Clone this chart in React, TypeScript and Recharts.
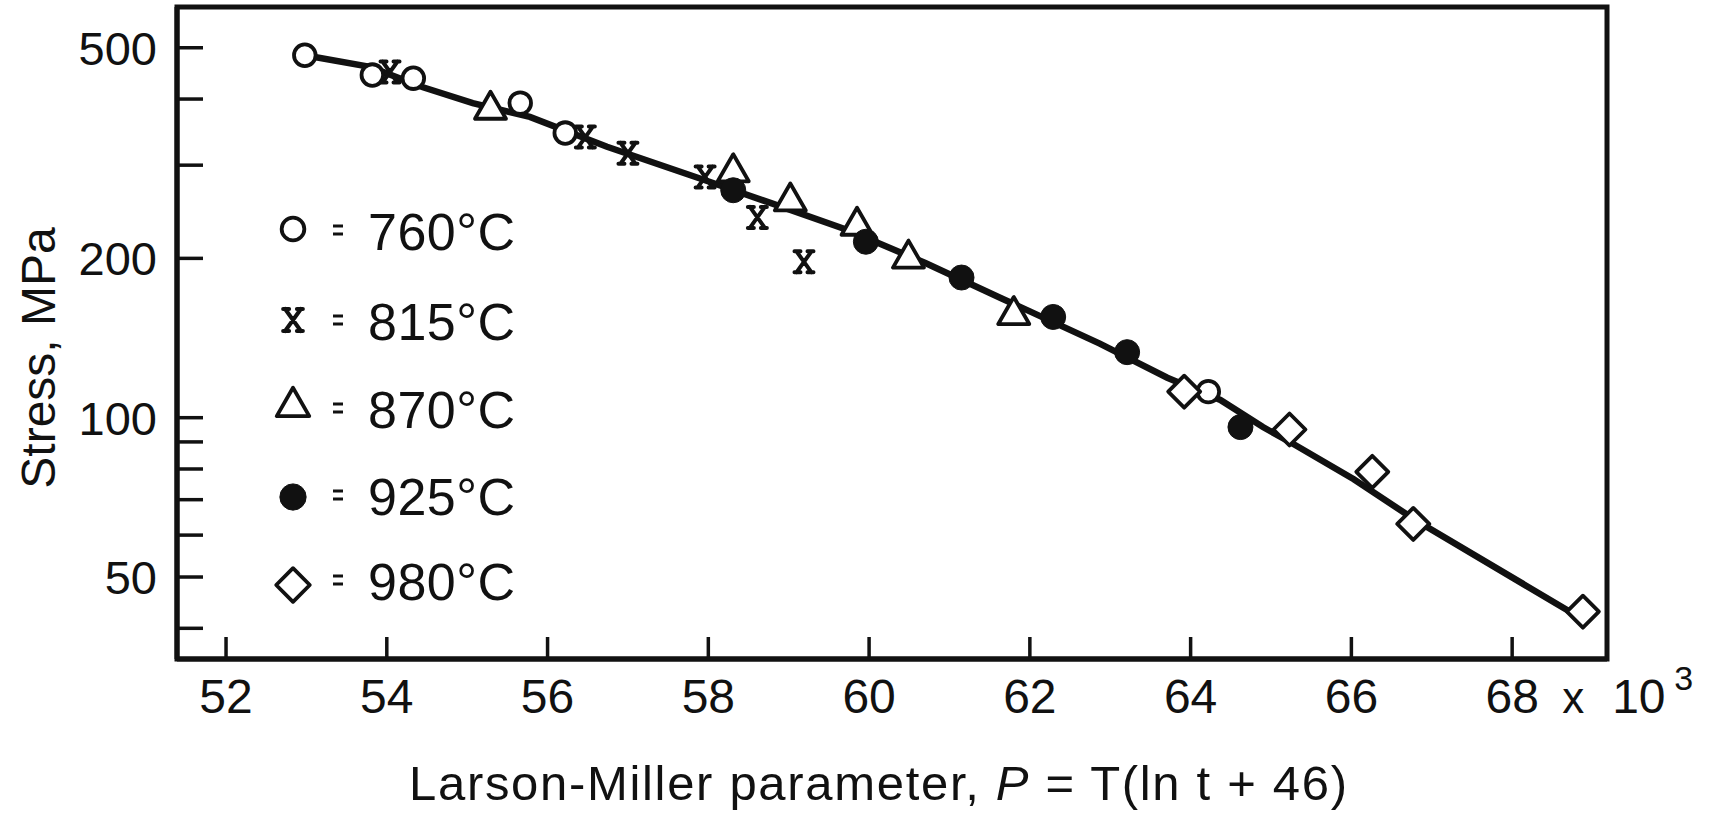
import React from 'react';
import { ComposedChart, Scatter, Line, XAxis, YAxis, Legend, ReferenceArea } from 'recharts';

// ---------- data ----------
const xTicks = [52, 54, 56, 58, 60, 62, 64, 66, 68];
const yTicks = [40, 50, 60, 70, 80, 90, 100, 200, 300, 400, 500];
const yLabeled = [50, 100, 200, 500];
const seriesNames = ['760°C', '815°C', '870°C', '925°C', '980°C'];

const s760 = [
  { P: 52.98, S: 484 },
  { P: 53.82, S: 444 },
  { P: 54.33, S: 438 },
  { P: 55.66, S: 393 },
  { P: 56.22, S: 345 },
  { P: 64.22, S: 112 },
];
const s815 = [
  { P: 54.04, S: 450 },
  { P: 56.47, S: 339 },
  { P: 57.0, S: 316 },
  { P: 57.96, S: 285 },
  { P: 58.61, S: 239 },
  { P: 59.19, S: 197 },
];
const s870 = [
  { P: 55.29, S: 386 },
  { P: 58.31, S: 294 },
  { P: 59.02, S: 259 },
  { P: 59.85, S: 233 },
  { P: 60.49, S: 202 },
  { P: 61.8, S: 158 },
];
const s925 = [
  { P: 58.31, S: 269 },
  { P: 59.96, S: 215 },
  { P: 61.15, S: 184 },
  { P: 62.29, S: 155 },
  { P: 63.21, S: 133 },
  { P: 64.62, S: 96 },
];
const s980 = [
  { P: 63.92, S: 112 },
  { P: 65.23, S: 95 },
  { P: 66.26, S: 79 },
  { P: 66.77, S: 63 },
  { P: 68.88, S: 43 },
];
const trend = [
  { P: 52.98, S: 484 },
  { P: 53.79, S: 460 },
  { P: 54.45, S: 421 },
  { P: 55.07, S: 393 },
  { P: 55.78, S: 370 },
  { P: 56.74, S: 325 },
  { P: 57.96, S: 281 },
  { P: 58.79, S: 254 },
  { P: 59.74, S: 226 },
  { P: 60.7, S: 196 },
  { P: 61.65, S: 168 },
  { P: 62.87, S: 138 },
  { P: 63.71, S: 119 },
  { P: 64.37, S: 108 },
  { P: 64.9, S: 96 },
  { P: 65.3, S: 88.8 },
  { P: 66.03, S: 76.5 },
  { P: 66.8, S: 64 },
  { P: 68.72, S: 43 },
];

// ---------- styles ----------
const FONT = "'Liberation Sans', Arial, Helvetica, sans-serif";
const INK = '#111';
const X_DOMAIN: [number, number] = [51.39, 69.18];
const Y_DOMAIN: [number, number] = [35, 597];

type Kind = 'circle' | 'cross' | 'triangle' | 'dot' | 'diamond';
const kinds: Kind[] = ['circle', 'cross', 'triangle', 'dot', 'diamond'];

function markerEl(kind: Kind, cx: number, cy: number, k = 1) {
  const sw = 3.8;
  switch (kind) {
    case 'circle':
      return <circle cx={cx} cy={cy} r={10.8 * k} fill="#fff" stroke={INK} strokeWidth={sw} />;
    case 'dot':
      return <circle cx={cx} cy={cy} r={12.5 * k} fill={INK} stroke={INK} strokeWidth={1} />;
    case 'triangle': {
      const hw = 15.5 * k;
      const up = 15.5 * k;
      const dn = 11.5 * k;
      return (
        <polygon
          points={`${cx},${cy - up} ${cx - hw},${cy + dn} ${cx + hw},${cy + dn}`}
          fill="#fff"
          stroke={INK}
          strokeWidth={sw}
          strokeLinejoin="round"
        />
      );
    }
    case 'diamond': {
      const h = 16 * k;
      return (
        <polygon
          points={`${cx},${cy - h} ${cx + h},${cy} ${cx},${cy + h} ${cx - h},${cy}`}
          fill="#fff"
          stroke={INK}
          strokeWidth={sw}
          strokeLinejoin="round"
        />
      );
    }
    case 'cross': {
      const w = 7.5 * k;
      const h = 10.5 * k;
      return (
        <path
          d={`M${cx - w},${cy - h} L${cx + w},${cy + h} M${cx + w},${cy - h} L${cx - w},${cy + h} M${cx - w - 2},${cy - h} H${cx - w + 4} M${cx + w - 4},${cy - h} H${cx + w + 2} M${cx - w - 2},${cy + h} H${cx - w + 4} M${cx + w - 4},${cy + h} H${cx + w + 2}`}
          fill="none"
          stroke={INK}
          strokeWidth={4}
          strokeLinecap="round"
        />
      );
    }
  }
  return null;
}

const makeShape = (kind: Kind) => (props: any) => {
  const { cx, cy } = props;
  if (cx == null || cy == null) return <g />;
  return markerEl(kind, cx, cy);
};

// ---------- axis ticks ----------
const XTick = (props: any) => {
  const { x, y, payload } = props;
  const v = payload.value;
  return (
    <g>
      <line x1={x} y1={y} x2={x} y2={y - 22} stroke={INK} strokeWidth={3.5} />
      <text x={x} y={y + 54} textAnchor="middle" fontFamily={FONT} fontSize={48} fill={INK}>
        {v}
      </text>
      {v === 68 ? (
        <g>
          <text x={x + 50} y={y + 54} textAnchor="start" fontFamily={FONT} fontSize={44} fill={INK}>
            x
          </text>
          <text x={x + 100} y={y + 54} textAnchor="start" fontFamily={FONT} fontSize={48} fill={INK}>
            10
          </text>
          <text x={x + 162} y={y + 31} textAnchor="start" fontFamily={FONT} fontSize={34} fill={INK}>
            3
          </text>
        </g>
      ) : null}
    </g>
  );
};

const YTick = (props: any) => {
  const { x, y, payload } = props;
  const v = payload.value;
  return (
    <g>
      <line x1={x} y1={y} x2={x + 26} y2={y} stroke={INK} strokeWidth={3.5} />
      {yLabeled.includes(v) ? (
        <text x={x - 20} y={y + 17} textAnchor="end" fontFamily={FONT} fontSize={47} fill={INK}>
          {v}
        </text>
      ) : null}
    </g>
  );
};

const XTitle = () => (
  <text x={409} y={800} fontFamily={FONT} fontSize={49} fill={INK} textLength={938} lengthAdjust="spacing">
    Larson-Miller parameter,{' '}
    <tspan fontStyle="italic">P</tspan> = T(ln t + 46)
  </text>
);

const YTitle = () => (
  <text
    x={55}
    y={358}
    transform="rotate(-90 55 358)"
    textAnchor="middle"
    fontFamily={FONT}
    fontSize={48}
    fill={INK}
  >
    Stress, MPa
  </text>
);

// ---------- legend ----------
const LEG_LEFT = 260;
const LEG_TOP = 190;
const legendSymbolY = [229, 320, 404, 497, 585];
const legendTextBase = [250, 340, 428, 515, 600];

const LegendBox = () => (
  <svg width={290} height={430} style={{ display: 'block', overflow: 'visible' }}>
    {seriesNames.map((name, i) => {
      const sy = legendSymbolY[i] - LEG_TOP;
      const tb = legendTextBase[i] - LEG_TOP;
      const sx = 293 - LEG_LEFT;
      const eqx = 338 - LEG_LEFT;
      const ey = tb - 20;
      return (
        <g key={name}>
          {markerEl(kinds[i], sx, sy, 1.05)}
          <line x1={eqx - 5} y1={ey - 4} x2={eqx + 5} y2={ey - 4} stroke={INK} strokeWidth={3} />
          <line x1={eqx - 5} y1={ey + 4} x2={eqx + 5} y2={ey + 4} stroke={INK} strokeWidth={3} />
          <text x={368 - LEG_LEFT} y={tb} fontFamily={FONT} fontSize={52} fill={INK} textLength={147} lengthAdjust="spacing">
            {name}
          </text>
        </g>
      );
    })}
  </svg>
);

export default function App() {
  return (
    <div style={{ position: 'absolute', left: 0, top: 0, width: 1713, height: 815, background: '#fff' }}>
      <ComposedChart width={1713} height={815} margin={{ top: 7, right: 106, bottom: 96, left: 0 }}>
        <XAxis
          dataKey="P"
          type="number"
          domain={X_DOMAIN}
          allowDataOverflow
          ticks={xTicks}
          interval={0}
          tickSize={0}
          tickMargin={0}
          tickLine={false}
          tick={<XTick />}
          axisLine={{ stroke: INK, strokeWidth: 5 }}
          height={60}
          label={<XTitle />}
        />
        <YAxis
          dataKey="S"
          type="number"
          scale="log"
          domain={Y_DOMAIN}
          allowDataOverflow
          ticks={yTicks}
          interval={0}
          tickSize={0}
          tickMargin={0}
          tickLine={false}
          tick={<YTick />}
          axisLine={{ stroke: INK, strokeWidth: 5 }}
          width={177}
          label={<YTitle />}
        />
        <ReferenceArea
          x1={X_DOMAIN[0]}
          x2={X_DOMAIN[1]}
          y1={Y_DOMAIN[0]}
          y2={Y_DOMAIN[1]}
          fill="none"
          fillOpacity={0}
          stroke={INK}
          strokeWidth={5}
          ifOverflow="visible"
        />
        <Line
          data={trend}
          dataKey="S"
          type="linear"
          stroke={INK}
          strokeWidth={6.5}
          dot={false}
          activeDot={false}
          legendType="none"
          isAnimationActive={false}
        />
        <Scatter name={seriesNames[0]} data={s760} dataKey="S" shape={makeShape('circle')} isAnimationActive={false} />
        <Scatter name={seriesNames[1]} data={s815} dataKey="S" shape={makeShape('cross')} isAnimationActive={false} />
        <Scatter name={seriesNames[2]} data={s870} dataKey="S" shape={makeShape('triangle')} isAnimationActive={false} />
        <Scatter name={seriesNames[3]} data={s925} dataKey="S" shape={makeShape('dot')} isAnimationActive={false} />
        <Scatter name={seriesNames[4]} data={s980} dataKey="S" shape={makeShape('diamond')} isAnimationActive={false} />
        <Legend
          layout="vertical"
          align="center"
          verticalAlign="middle"
          content={() => <LegendBox />}
          wrapperStyle={{ position: 'absolute', left: LEG_LEFT, top: LEG_TOP, width: 290, height: 430, right: 'auto', bottom: 'auto' }}
        />
      </ComposedChart>
    </div>
  );
}
